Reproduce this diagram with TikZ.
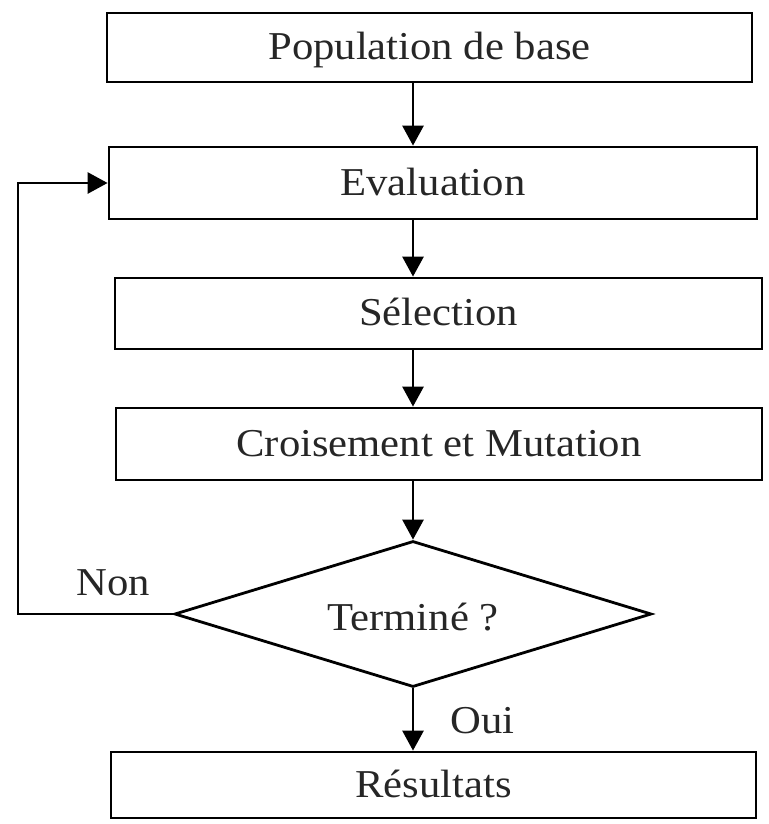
\documentclass[tikz,border=0pt]{standalone}
\usepackage{fontspec}
\setmainfont{Liberation Serif}[FakeStretch=1.08]
\usetikzlibrary{arrows.meta,shapes.geometric}
\begin{document}
\begin{tikzpicture}[x=1pt,y=-1pt,
  every node/.style={font=\fontsize{39.5}{45}\selectfont, text=black!85},
  box/.style={draw=black, line width=2.8pt, inner sep=0pt, text height=31pt, text depth=7pt},
  dec/.style={draw=black, line width=2.8pt, shape=diamond, shape aspect=3.27, inner sep=0pt, text height=31pt, text depth=7pt},
  conn/.style={line width=2.8pt, -{Triangle[width=21pt,length=20pt]}},
  lbl/.style={anchor=base west, inner sep=0pt}]
\useasboundingbox (0,0) rectangle (768,824);
\coordinate (ax) at (413,0);
\coordinate (lx) at (18,0);
\node[box, minimum width=645pt, minimum height=69pt] (b1) at (429.5,47.5) {Population de base};
\node[box, minimum width=648pt, minimum height=72pt] (b2) at (433,183) {Evaluation};
\node[box, minimum width=647pt, minimum height=71pt] (b3) at (438.5,313.5) {Sélection};
\node[box, minimum width=646pt, minimum height=72pt] (b4) at (439,444) {Croisement et Mutation};
\node[dec, minimum width=477pt, minimum height=146pt] (d) at (413,614) {\raisebox{-4pt}{Terminé ?}};
\node[box, minimum width=645pt, minimum height=66pt] (b6) at (433.5,785) {Résultats};
\draw[conn] (b1.south -| ax) -- (b2.north -| ax);
\draw[conn] (b2.south -| ax) -- (b3.north -| ax);
\draw[conn] (b3.south -| ax) -- (b4.north -| ax);
\draw[conn] (b4.south -| ax) -- (d.north);
\draw[conn] (d.south) -- (b6.north -| ax);
\draw[conn, line join=miter] (d.west) -- (d.west -| lx) -- (b2.west -| lx) -- (b2.west);
\node[lbl] (non) at (76,595) {Non};
\node[lbl] (oui) at (450,733) {Oui};
\end{tikzpicture}
\end{document}
